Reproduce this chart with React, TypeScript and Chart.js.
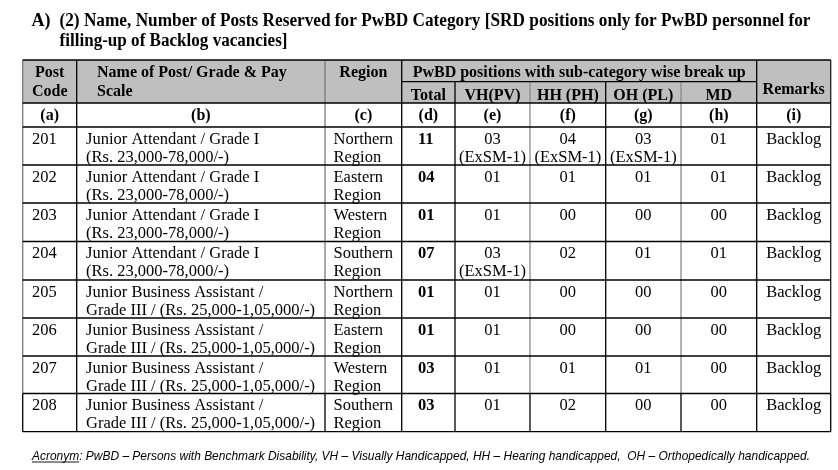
import React, { useEffect, useRef } from "react";
import { Chart, registerables } from "chart.js";

Chart.register(...registerables);

// ---------- data ----------
const titleLabel = "A)";
const titleLines = [
  "(2) Name, Number of Posts Reserved for PwBD Category [SRD positions only for PwBD personnel for",
  "filling-up of Backlog vacancies]",
];
const headerPostCode = ["Post", "Code"];
const headerName = ["Name of Post/ Grade & Pay", "Scale"];
const headerRegion = "Region";
const headerGroup = "PwBD positions with sub-category wise break up";
const subHeaders = ["Total", "VH(PV)", "HH (PH)", "OH (PL)", "MD"];
const headerRemarks = "Remarks";
const columnLetters = ["(a)", "(b)", "(c)", "(d)", "(e)", "(f)", "(g)", "(h)", "(i)"];

const postCodes = ["201", "202", "203", "204", "205", "206", "207", "208"];
const postTitles = [
  "Junior Attendant / Grade I",
  "Junior Attendant / Grade I",
  "Junior Attendant / Grade I",
  "Junior Attendant / Grade I",
  "Junior Business Assistant /",
  "Junior Business Assistant /",
  "Junior Business Assistant /",
  "Junior Business Assistant /",
];
const payScales = [
  "(Rs. 23,000-78,000/-)",
  "(Rs. 23,000-78,000/-)",
  "(Rs. 23,000-78,000/-)",
  "(Rs. 23,000-78,000/-)",
  "Grade III / (Rs. 25,000-1,05,000/-)",
  "Grade III / (Rs. 25,000-1,05,000/-)",
  "Grade III / (Rs. 25,000-1,05,000/-)",
  "Grade III / (Rs. 25,000-1,05,000/-)",
];
const regions = ["Northern", "Eastern", "Western", "Southern", "Northern", "Eastern", "Western", "Southern"];
const totals = [11, 4, 1, 7, 1, 1, 3, 3];
const vhValues = [3, 1, 1, 3, 1, 1, 1, 1];
const hhValues = [4, 1, 0, 2, 0, 0, 1, 2];
const ohValues = [3, 1, 0, 1, 0, 0, 1, 0];
const mdValues = [1, 1, 0, 1, 0, 0, 0, 0];
const vhExSM = [1, 0, 0, 1, 0, 0, 0, 0];
const hhExSM = [1, 0, 0, 0, 0, 0, 0, 0];
const ohExSM = [1, 0, 0, 0, 0, 0, 0, 0];
const remarks = ["Backlog", "Backlog", "Backlog", "Backlog", "Backlog", "Backlog", "Backlog", "Backlog"];

const footLabel = "Acronym";
const footText =
  ": PwBD \u2013 Persons with Benchmark Disability, VH \u2013 Visually Handicapped, HH \u2013 Hearing handicapped,  OH \u2013 Orthopedically handicapped.";

// ---------- layout (scale units) ----------
const W = 838;
const H = 470;
const colEdges = [22.7, 76.7, 325, 401.7, 455, 530, 605.7, 681, 756.7, 830.7];
const headTop = 60;
const headMid = 81.7;
const headBottom = 103;
const letterBottom = 127;
const rowEdges = [127, 165, 203, 241.5, 280, 318, 356, 393.5, 431.7];

const SERIF = '"Liberation Serif", "Times New Roman", serif';
const SANS = '"Liberation Sans", Arial, sans-serif';

const pad2 = (n: number) => String(n).padStart(2, "0");

const tablePlugin = {
  id: "tablePlugin",
  afterDraw(chart: any) {
    const { ctx } = chart;
    const xs = chart.scales.x;
    const ys = chart.scales.y;
    const X = (v: number) => xs.getPixelForValue(v);
    const Y = (v: number) => ys.getPixelForValue(v);

    const text = (
      s: string,
      x: number,
      y: number,
      font: string,
      align: CanvasTextAlign = "left",
      fitWidth?: number
    ) => {
      ctx.save();
      ctx.font = font;
      ctx.fillStyle = "#000";
      ctx.textBaseline = "alphabetic";
      ctx.textAlign = align;
      if (fitWidth) {
        const w = ctx.measureText(s).width;
        ctx.translate(X(x), Y(y));
        ctx.scale(fitWidth / w, 1);
        ctx.fillText(s, 0, 0);
      } else {
        ctx.fillText(s, X(x), Y(y));
      }
      ctx.restore();
    };
    const colCenter = (i: number) => (colEdges[i] + colEdges[i + 1]) / 2;

    ctx.save();
    // header background
    ctx.fillStyle = "#bfbfbf";
    ctx.fillRect(X(colEdges[0]), Y(headTop), X(colEdges[9]) - X(colEdges[0]), Y(headBottom) - Y(headTop));

    const hLine = (yv: number, x0: number, x1: number, color = "#000") => {
      ctx.strokeStyle = color;
      ctx.lineWidth = 1.3;
      ctx.beginPath();
      ctx.moveTo(X(x0), Y(yv));
      ctx.lineTo(X(x1), Y(yv));
      ctx.stroke();
    };
    const vLine = (xv: number, y0: number, y1: number, color = "#000") => {
      ctx.strokeStyle = color;
      ctx.lineWidth = 1.3;
      ctx.beginPath();
      ctx.moveTo(X(xv), Y(y0));
      ctx.lineTo(X(xv), Y(y1));
      ctx.stroke();
    };

    const lastRowTop = rowEdges[rowEdges.length - 2];
    const bottom = rowEdges[rowEdges.length - 1];
    const vColors = ["#7a7a7a", "#000", "#7a7a7a", "#000", "#000", "#8a8a8a", "#000", "#8a8a8a", "#000", "#222"];
    colEdges.forEach((cx, i) => {
      const top = i >= 4 && i <= 7 ? headMid : headTop;
      vLine(cx, top, lastRowTop, vColors[i]);
      vLine(cx, lastRowTop, bottom, "#000");
    });

    hLine(headTop, colEdges[0], colEdges[9]);
    hLine(headMid, colEdges[3], colEdges[8]);
    hLine(headBottom, colEdges[0], colEdges[9]);
    hLine(letterBottom, colEdges[0], colEdges[9]);
    rowEdges.slice(1).forEach((r) => hLine(r, colEdges[0], colEdges[9]));
    ctx.restore();

    // title
    const titleFont = `bold 18px ${SERIF}`;
    text(titleLabel, 31.5, 26, titleFont);
    text(titleLines[0], 59.5, 26, titleFont, "left", 751);
    text(titleLines[1], 59.5, 45.5, titleFont, "left", 228);

    // header text
    const hf = `bold 16px ${SERIF}`;
    text(headerPostCode[0], colCenter(0), 77, hf, "center");
    text(headerPostCode[1], colCenter(0), 96, hf, "center");
    text(headerName[0], 97, 77, hf);
    text(headerName[1], 97, 96, hf);
    text(headerRegion, colCenter(2), 77, hf, "center");
    text(headerGroup, (colEdges[3] + colEdges[8]) / 2, 77, hf, "center");
    subHeaders.forEach((s, i) => text(s, colCenter(3 + i), 99.5, hf, "center"));
    text(headerRemarks, colCenter(8), 93.5, hf, "center");
    columnLetters.forEach((s, i) => text(s, colCenter(i), 120, hf, "center"));

    // body
    const bf = `16.5px ${SERIF}`;
    const bb = `bold 16.5px ${SERIF}`;
    postCodes.forEach((code, r) => {
      const top = rowEdges[r];
      const l1 = top + 16.5;
      const l2 = top + 34.5;
      text(code, 32, l1, bf);
      text(postTitles[r], 86, l1, bf);
      text(payScales[r], 86, l2, bf);
      text(regions[r], 333.5, l1, bf);
      text("Region", 333.5, l2, bf);
      text(pad2(totals[r]), 418, l1, bb);
      const vals = [vhValues, hhValues, ohValues, mdValues];
      const ex = [vhExSM, hhExSM, ohExSM, null];
      vals.forEach((arr, k) => {
        text(pad2(arr[r]), colCenter(4 + k), l1, bf, "center");
        const e = ex[k];
        if (e && e[r] > 0) text(`(ExSM-${e[r]})`, colCenter(4 + k), l2, bf, "center");
      });
      text(remarks[r], colCenter(8), l1, bf, "center");
    });

    // footnote
    const ff = `italic 13px ${SANS}`;
    ctx.save();
    ctx.font = ff;
    const lw = ctx.measureText(footLabel).width;
    const tw = ctx.measureText(footText).width;
    const total = lw + tw;
    const target = 778;
    const k = target / total;
    ctx.restore();
    text(footLabel, 32, 460, ff, "left", lw * k);
    text(footText, 32 + lw * k, 460, ff, "left", tw * k);
    ctx.save();
    ctx.strokeStyle = "#000";
    ctx.lineWidth = 0.9;
    ctx.beginPath();
    ctx.moveTo(X(32), Y(462));
    ctx.lineTo(X(32 + lw * k), Y(462));
    ctx.stroke();
    ctx.restore();
  },
};

export default function App() {
  const ref = useRef<HTMLCanvasElement | null>(null);
  useEffect(() => {
    if (!ref.current) return;
    const chart = new Chart(ref.current, {
      type: "scatter",
      data: { datasets: [{ data: [] }] },
      options: {
        animation: false,
        responsive: false,
        devicePixelRatio: 1,
        layout: { padding: 0 },
        plugins: { legend: { display: false }, tooltip: { enabled: false } },
        scales: {
          x: { type: "linear", min: 0, max: W, display: false },
          y: { type: "linear", min: 0, max: H, reverse: true, display: false },
        },
      },
      plugins: [tablePlugin],
    });
    return () => chart.destroy();
  }, []);
  return (
    <div style={{ position: "fixed", left: 0, top: 0, width: W, height: H, background: "#fff" }}>
      <canvas ref={ref} width={W} height={H} style={{ width: W, height: H, display: "block" }} />
    </div>
  );
}
